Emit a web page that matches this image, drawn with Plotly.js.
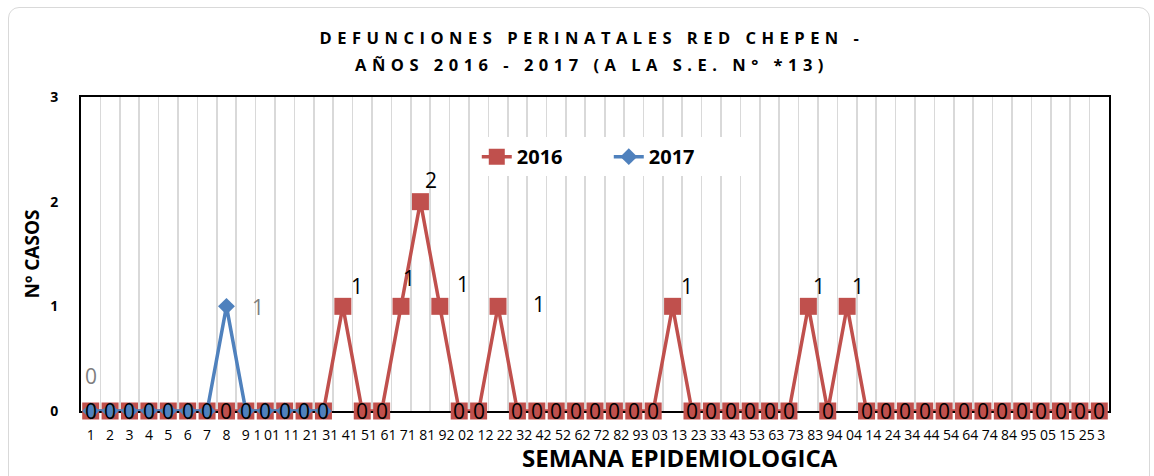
<!DOCTYPE html>
<html>
<head>
<meta charset="utf-8">
<script src="https://cdn.plot.ly/plotly-3.0.1.min.js"></script>
<style>
  html, body { margin: 0; padding: 0; background: #fff; }
  #wrap { position: relative; width: 1154px; height: 476px; overflow: hidden; }
  #chart { width: 1154px; height: 476px; }
  #frame { position: absolute; left: 8px; top: 7px; width: 1142px; height: 482px;
           border: 1.5px solid #d9d9d9; border-radius: 11px; pointer-events: none; box-sizing: border-box; }
  text.gtitle { letter-spacing: 5.5px; }
</style>
</head>
<body>
<div id="wrap">
  <div id="chart"></div>
  <div id="frame"></div>
</div>
<script>
// ---------- data ----------
const weeks = [1,2,3,4,5,6,7,8,9,10,11,12,13,14,15,16,17,18,19,20,21,22,23,24,25,26,27,
               28,29,30,31,32,33,34,35,36,37,38,39,40,41,42,43,44,45,46,47,48,49,50,51,52,53];
const cases2016 = [0,0,0,0,0,0,0,0,0,0,0,0,0,1,0,0,1,2,1,0,0,1,0,0,0,0,0,
                   0,0,0,1,0,0,0,0,0,0,1,0,1,0,0,0,0,0,0,0,0,0,0,0,0,0];
const cases2017 = [0,0,0,0,0,0,0,1,0,0,0,0,0];
// tick labels exactly as they appear under the axis
const tickLabels = ["1","2","3","4","5","6","7","8","9","1",
  "01","11","21","31","41","51","61","71","81","92",
  "02","12","22","32","42","52","62","72","82","93",
  "03","13","23","33","43","53","63","73","83","94",
  "04","14","24","34","44","54","64","74","84","95",
  "05","15","25","3"];
const seriesNames = ["2016", "2017"];
const titleLine1 = "DEFUNCIONES PERINATALES RED CHEPEN -";
const titleLine2 = "AÑOS 2016 - 2017 (A LA S.E. N° *13)";
const xTitle = "SEMANA EPIDEMIOLOGICA";
const yTitle = "Nº CASOS";

// ---------- styling ----------
const RED = "#C0504D", BLUE = "#4F81BD", GRID = "#d9d9d9";
const FONT = "Open Sans, Liberation Sans, Arial, sans-serif";
// label offsets in px (dx right, dy down) keyed by week
const shift2016 = {14:[14,-20],17:[8,-28],18:[11,-22],19:[23,-22],22:[41,-2],31:[14,-20],38:[11,-20],40:[11,-20]};
const shift2017 = {1:[0,-35], 8:[32,1]};

// tick positions: first nine on the weeks, the rest drift as in the original rendering
const tickVals = tickLabels.map((t, i) => {
  if (i < 9) return weeks[i];
  if (i === 9) return weeks[8] + 0.6;
  if (i === tickLabels.length - 1) return weeks[weeks.length - 1] + 0.1;
  return weeks[i - 1] + 0.35;
});

const traces = [
  {
    x: weeks, y: cases2016, name: seriesNames[0], type: "scatter", mode: "lines+markers",
    line: {color: RED, width: 3.5},
    marker: {symbol: "square", size: 17, color: RED},
    cliponaxis: false, hoverinfo: "x+y"
  },
  {
    x: weeks.slice(0, cases2017.length), y: cases2017, name: seriesNames[1], type: "scatter", mode: "lines+markers",
    line: {color: BLUE, width: 3.5},
    marker: {symbol: "diamond", size: 13, color: BLUE},
    cliponaxis: false, hoverinfo: "x+y"
  }
];

const annotations = [];
weeks.forEach((w, i) => {
  const s = shift2016[w] || [0, 0];
  annotations.push({
    x: w, y: cases2016[i], xref: "x", yref: "y", text: String(cases2016[i]),
    showarrow: false, xshift: s[0], yshift: -s[1],
    font: {family: FONT, size: 21, color: "#000"}
  });
});
cases2017.forEach((v, i) => {
  const w = weeks[i];
  if (!(w in shift2017)) return;
  const s = shift2017[w];
  annotations.push({
    x: w, y: v, xref: "x", yref: "y", text: String(v),
    showarrow: false, xshift: s[0], yshift: -s[1],
    font: {family: FONT, size: 21, color: "#7f7f7f"}
  });
});
// second title line
annotations.push({
  text: "<span style=\"letter-spacing:5.5px\"><b>" + titleLine2 + "</b></span>",
  xref: "paper", yref: "paper", x: 0.497, y: 1.102,
  xanchor: "center", yanchor: "middle", showarrow: false,
  font: {family: FONT, size: 16.5, color: "#000"}
});
// x axis title (offset to the right as in the original)
annotations.push({
  text: "<b>" + xTitle + "</b>", xref: "paper", yref: "paper", x: 0.583, y: -0.206,
  xanchor: "center", yanchor: "bottom", showarrow: false,
  font: {family: FONT, size: 24, color: "#000"}
});

const layout = {
  width: 1154, height: 476,
  margin: {l: 81, r: 45, t: 97, b: 65},
  paper_bgcolor: "#ffffff", plot_bgcolor: "#ffffff",
  showlegend: true,
  title: {
    text: "<b>" + titleLine1 + "</b>",
    font: {family: FONT, size: 16.5, color: "#000"},
    xref: "container", x: 0.513, xanchor: "center",
    yref: "container", y: 0.92, yanchor: "middle"
  },
  xaxis: {
    type: "linear", range: [0.5, 53.5],
    tickmode: "array", tickvals: tickVals, ticktext: tickLabels,
    ticks: "", showgrid: false, zeroline: false,
    tickfont: {family: FONT, size: 14, color: "#000"},
    ticklabelstandoff: 10,
    showline: true, linecolor: "#000", linewidth: 2, mirror: true,
    minor: {tickmode: "linear", tick0: 0.5, dtick: 1, showgrid: true, gridcolor: GRID, gridwidth: 1.6, ticks: ""},
    layer: "below traces", fixedrange: true
  },
  yaxis: {
    range: [0, 3], tickmode: "array", tickvals: [0,1,2,3], ticktext: ["0","1","2","3"],
    ticks: "", showgrid: false, zeroline: false,
    tickfont: {family: FONT, size: 14, color: "#000", weight: "bold"},
    ticklabelstandoff: 18,
    showline: true, linecolor: "#000", linewidth: 2, mirror: true,
    title: {text: "<b>" + yTitle + "</b>", font: {family: FONT, size: 19, color: "#000"}, standoff: 6},
    layer: "below traces", fixedrange: true
  },
  legend: {
    orientation: "h", x: 0.385, xanchor: "left", y: 0.81, yanchor: "middle",
    bgcolor: "#ffffff", font: {family: FONT, size: 20, color: "#000", weight: "bold"},
    entrywidth: 87, entrywidthmode: "pixels",
    itemclick: false, itemdoubleclick: false
  },
  annotations: annotations
};

Plotly.newPlot("chart", traces, layout, {displayModeBar: false, staticPlot: true});
</script>
</body>
</html>
